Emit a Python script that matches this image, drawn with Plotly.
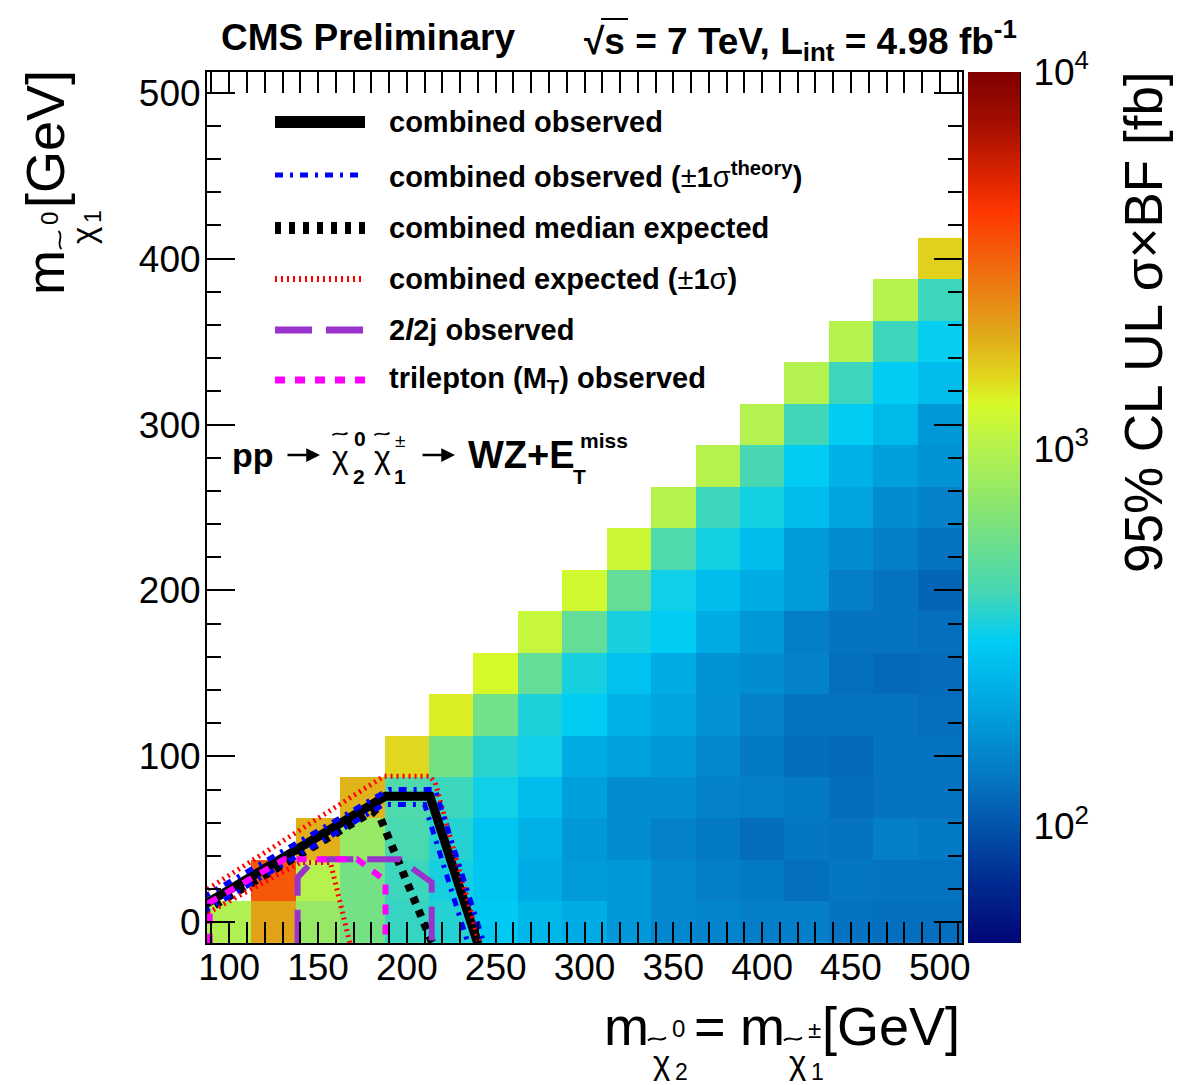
import numpy as np
import plotly.graph_objects as go

# ---------------- data ----------------
m_chi2 = [100, 125, 150, 175, 200, 225, 250, 275, 300, 325, 350, 375, 400, 425, 450, 475, 500]
m_lsp = [0, 25, 50, 75, 100, 125, 150, 175, 200, 225, 250, 275, 300, 325, 350, 375, 400]

# 95% CL UL sigma x BF [fb], per column (m_chi2), listed for m_lsp = 0, 25, ...
ul_m100 = [950]
ul_m125 = [2100, 3400]
ul_m150 = [780, 1000, 1950]
ul_m175 = [600, 600, 780, 1900]
ul_m200 = [390, 400, 430, 450, 1550]
ul_m225 = [360, 340, 360, 400, 600, 1400]
ul_m250 = [300, 290, 285, 330, 370, 590, 1300]
ul_m275 = [250, 225, 235, 265, 330, 350, 520, 1150]
ul_m300 = [225, 190, 185, 200, 225, 310, 340, 520, 1250]
ul_m325 = [185, 185, 166, 166, 205, 235, 275, 340, 520, 1200]
ul_m350 = [160, 160, 150, 166, 185, 210, 225, 310, 330, 450, 1000]
ul_m375 = [155, 145, 138, 150, 160, 175, 178, 225, 265, 335, 400, 1000]
ul_m400 = [145, 140, 124, 145, 138, 150, 166, 185, 225, 265, 335, 420, 980]
ul_m425 = [145, 126, 135, 138, 124, 130, 150, 145, 190, 190, 265, 310, 410, 980]
ul_m450 = [130, 135, 130, 124, 120, 130, 126, 130, 145, 166, 210, 235, 310, 400, 1000]
ul_m475 = [126, 130, 145, 130, 130, 130, 120, 130, 130, 145, 166, 200, 255, 310, 400, 1000]
ul_m500 = [126, 128, 138, 130, 130, 126, 122, 126, 115, 130, 150, 178, 185, 265, 315, 400, 1600]
ul_columns = [ul_m100, ul_m125, ul_m150, ul_m175, ul_m200, ul_m225, ul_m250, ul_m275, ul_m300,
              ul_m325, ul_m350, ul_m375, ul_m400, ul_m425, ul_m450, ul_m475, ul_m500]

# exclusion contours (GeV)
obs_x = [85, 188, 213, 240]
obs_y = [10, 76, 76, -13]
obs_th_up_x = [85, 190, 216, 243.5]
obs_th_up_y = [15, 80, 80, -13]
obs_th_dn_x = [85, 187, 210, 234.5]
obs_th_dn_y = [6, 71, 71, -13]
exp_x = [85, 181, 185, 214.5]
exp_y = [6, 67, 63, -13]
exp_up_x = [85, 187, 213, 216, 241]
exp_up_y = [18, 88, 88, 84, -13]
exp_dn_x = [85, 140, 157, 168]
exp_dn_y = [4, 36, 36, -13]
l2j_x = [138.5, 138.5, 148, 196, 214, 214]
l2j_y = [-13, 27, 38, 38, 24, -13]
tri_x = [89, 89, 131, 172, 188, 188]
tri_y = [-13, 12, 38, 38, 25, -13]

colorbar_ticks = [100, 1000, 10000]
colorbar_ticktext = ["10<sup>2</sup>", "10<sup>3</sup>", "10<sup>4</sup>"]
zlog_min, zlog_max = 1.69, 4.0

# ---------------- build ----------------
z = [[None] * len(m_chi2) for _ in m_lsp]
for i, col in enumerate(ul_columns):
    for j, v in enumerate(col):
        z[j][i] = float(np.log10(v))

cscale = [
    [0.0, "rgb(0,5,120)"],
    [0.083, "rgb(0,50,150)"],
    [0.179, "rgb(5,112,192)"],
    [0.274, "rgb(0,165,225)"],
    [0.346, "rgb(0,205,245)"],
    [0.403, "rgb(70,215,180)"],
    [0.504, "rgb(140,230,110)"],
    [0.581, "rgb(190,245,70)"],
    [0.619, "rgb(215,250,40)"],
    [0.649, "rgb(225,215,30)"],
    [0.703, "rgb(225,165,25)"],
    [0.770, "rgb(240,110,15)"],
    [0.839, "rgb(255,55,0)"],
    [0.869, "rgb(230,40,0)"],
    [0.938, "rgb(165,15,0)"],
    [1.0, "rgb(128,0,0)"],
]

# page geometry
L, T, W, H = 207, 72, 893, 871
def px(x):
    return (x - L) / W
def py(y):
    return (T + H - y) / H

FONT = "Liberation Sans"

fig = go.Figure()
fig.add_trace(go.Heatmap(
    x=m_chi2, y=m_lsp, z=z, zmin=zlog_min, zmax=zlog_max, colorscale=cscale,
    hoverinfo="skip",
    colorbar=dict(x=px(968), xanchor="left", thickness=52, thicknessmode="pixels",
                  len=1, lenmode="fraction", y=0.5, yanchor="middle", ypad=0, xpad=0,
                  outlinewidth=0, showticklabels=False, ticks=""),
))

line_specs = [
    (obs_x, obs_y, dict(color="black", width=9)),
    (exp_x, exp_y, dict(color="black", width=8, dash="7px,7px")),
    (exp_up_x, exp_up_y, dict(color="red", width=5, dash="2px,4px")),
    (exp_dn_x, exp_dn_y, dict(color="red", width=5, dash="2px,4px")),
    (obs_th_up_x, obs_th_up_y, dict(color="blue", width=5, dash="8px,7px,3px,7px")),
    (obs_th_dn_x, obs_th_dn_y, dict(color="blue", width=5, dash="8px,7px,3px,7px")),
    (l2j_x, l2j_y, dict(color="rgb(153,51,204)", width=6, dash="34px,14px")),
    (tri_x, tri_y, dict(color="magenta", width=6, dash="10px,10px")),
]
for xs, ys, ln in line_specs:
    fig.add_trace(go.Scatter(x=xs, y=ys, mode="lines", line=ln, hoverinfo="skip", showlegend=False))

# invisible trace to activate colorbar axis
fig.add_trace(go.Scatter(x=[300], y=[1000], yaxis="y2", mode="markers",
                         marker=dict(opacity=0), hoverinfo="skip", showlegend=False))

axis_common = dict(showline=True, linewidth=2, linecolor="black", mirror="allticks",
                   ticks="inside", tickwidth=2, tickcolor="black", showgrid=False, zeroline=False,
                   tickfont=dict(family=FONT, size=37, color="black"))

fig.update_layout(
    width=1201, height=1085,
    margin=dict(l=L, r=1201 - L - W, t=T, b=1085 - T - H),
    plot_bgcolor="white", paper_bgcolor="white",
    font=dict(family=FONT, color="black"),
    showlegend=False,
    xaxis=dict(domain=[0, 755 / W], range=[87.5, 512.5], tickmode="linear", tick0=0, dtick=50,
               ticklen=21, ticklabelstandoff=-9,
               minor=dict(dtick=10, tick0=0, ticklen=11, tickwidth=2, ticks="inside", tickcolor="black"),
               **axis_common),
    yaxis=dict(range=[-12.5, 512.5], tickmode="linear", tick0=0, dtick=100,
               ticklen=28, ticklabelstandoff=-3,
               minor=dict(dtick=20, tick0=0, ticklen=14, tickwidth=2, ticks="inside", tickcolor="black"),
               **axis_common),
    yaxis2=dict(overlaying="y", anchor="free", position=px(1020), side="right", type="log",
                range=[zlog_min, zlog_max], showline=True, linewidth=2, linecolor="black",
                ticks="inside", ticklen=27, tickwidth=2, tickcolor="black",
                tickmode="array", tickvals=colorbar_ticks, ticktext=colorbar_ticktext,
                ticklabelstandoff=5,
                minor=dict(tickmode="array",
                           tickvals=[m * 10 ** e for e in (1, 2, 3) for m in range(2, 10)],
                           ticklen=14, tickwidth=2, ticks="inside", tickcolor="black"),
                showgrid=False, zeroline=False,
                tickfont=dict(family=FONT, size=37, color="black")),
)

# ---------------- legend (drawn) ----------------
leg_rows = [122, 175, 228, 279, 330, 380]
leg_lines = [
    dict(color="black", width=12),
    dict(color="blue", width=5, dash="8px,7px,3px,7px"),
    dict(color="black", width=12, dash="6px,8px"),
    dict(color="red", width=6, dash="2px,4px"),
    dict(color="rgb(153,51,204)", width=7, dash="37px,14px"),
    dict(color="magenta", width=7, dash="10px,10px"),
]
leg_text = [
    "<b>combined observed</b>",
    "<b>combined observed (</b>±<b>1</b>σ<sup><b>theory</b></sup><b>)</b>",
    "<b>combined median expected</b>",
    "<b>combined expected (</b>±<b>1</b>σ<b>)</b>",
    "<b>2<i>l</i>2j observed</b>",
    "<b>trilepton (M<sub>T</sub>) observed</b>",
]
shapes = []
annotations = []
for yrow, ln, txt in zip(leg_rows, leg_lines, leg_text):
    shapes.append(dict(type="line", xref="paper", yref="paper", x0=px(275), x1=px(365),
                       y0=py(yrow), y1=py(yrow), line=ln))
    annotations.append(dict(xref="paper", yref="paper", x=px(387), y=py(yrow), xanchor="left",
                            yanchor="middle", text=txt, showarrow=False,
                            font=dict(family=FONT, size=29, color="black")))

def ann(x, y, text, size, xanchor="left", yanchor="middle", angle=0):
    annotations.append(dict(xref="paper", yref="paper", x=px(x), y=py(y), xanchor=xanchor,
                            yanchor=yanchor, text=text, showarrow=False, textangle=angle,
                            font=dict(family=FONT, size=size, color="black")))

def arrow(x0, x1, y):
    annotations.append(dict(xref="paper", yref="paper", x=px(x1), y=py(y),
                            axref="pixel", ayref="pixel", ax=-(x1 - x0), ay=0,
                            text="", showarrow=True, arrowhead=2, arrowsize=1.1,
                            arrowwidth=2.5, arrowcolor="black"))

def tilde(cx, cy, w, amp, vertical=False, width=1.8):
    # wavy accent drawn as a path (page pixel centre cx, cy)
    local = [(-w / 2, amp / 2), (-w / 6, -1.5 * amp), (w / 6, 1.5 * amp), (w / 2, -amp / 2)]
    if vertical:
        pts = [(cx + v, cy - u) for u, v in local]
    else:
        pts = [(cx + u, cy + v) for u, v in local]
    p = [(px(a), py(b)) for a, b in pts]
    path = "M {0},{1} C {2},{3} {4},{5} {6},{7}".format(*[c for pt in p for c in pt])
    shapes.append(dict(type="path", xref="paper", yref="paper", path=path,
                       line=dict(color="black", width=width)))

# header
ann(219, 37, "<b>CMS Preliminary</b>", 37)
ann(582, 40, "<b>√s = 7 TeV, L<sub>int</sub> = 4.98 fb<sup>-1</sup></b>", 37)
shapes.append(dict(type="line", xref="paper", yref="paper", x0=px(601), x1=px(628),
                   y0=py(19), y1=py(19), line=dict(color="black", width=2)))

# process label
ann(230, 455, "<b>pp</b>", 34)
arrow(286, 320, 455)
ann(330, 457, "χ", 32)
tilde(340, 434, 15, 2.5)
ann(352, 438, "<b>0</b>", 21)
ann(351, 477, "<b>2</b>", 21)
ann(372, 457, "χ", 32)
tilde(382, 434, 15, 2.5)
ann(393, 440, "±", 19)
ann(392, 477, "<b>1</b>", 21)
arrow(421, 455, 455)
ann(466, 455, "<b>WZ+E</b>", 38)
ann(578, 440, "<b>miss</b>", 21)
ann(571, 476, "<b>T</b>", 21)

# x-axis title: m_{chi~0_2} = m_{chi~+-_1} [GeV]
XT = 1026
ann(602, XT, "m", 54)
ann(678, XT + 2, "0", 24, xanchor="center")
ann(661, XT + 36, "χ", 33, xanchor="center")
tilde(657, XT + 13, 18, 3)
ann(681, XT + 46, "2", 23, xanchor="center")
ann(710, XT, "=", 54, xanchor="center")
ann(738, XT, "m", 54)
ann(814, XT + 3, "±", 24, xanchor="center")
ann(797, XT + 36, "χ", 33, xanchor="center")
tilde(793, XT + 13, 18, 3)
ann(817, XT + 46, "1", 23, xanchor="center")
ann(962, XT, "[GeV]", 54, xanchor="right")

# y-axis title (rotated): m_{chi~0_1} [GeV]
YX = 45
ann(YX, 273, "m", 54, xanchor="center", angle=-90)
ann(YX + 4, 219, "0", 24, xanchor="center", angle=-90)
ann(YX + 38, 236, "χ", 33, xanchor="center", angle=-90)
tilde(YX + 15, 240, 18, 3, vertical=True)
ann(YX + 48, 217, "1", 23, xanchor="center", angle=-90)
ann(YX, 139, "[GeV]", 54, xanchor="center", angle=-90)

# colorbar title
ann(1143, 322, "95% CL UL σ×BF [fb]", 53, xanchor="center", angle=-90)

fig.update_layout(shapes=shapes, annotations=annotations)
fig.write_html("out.html")
